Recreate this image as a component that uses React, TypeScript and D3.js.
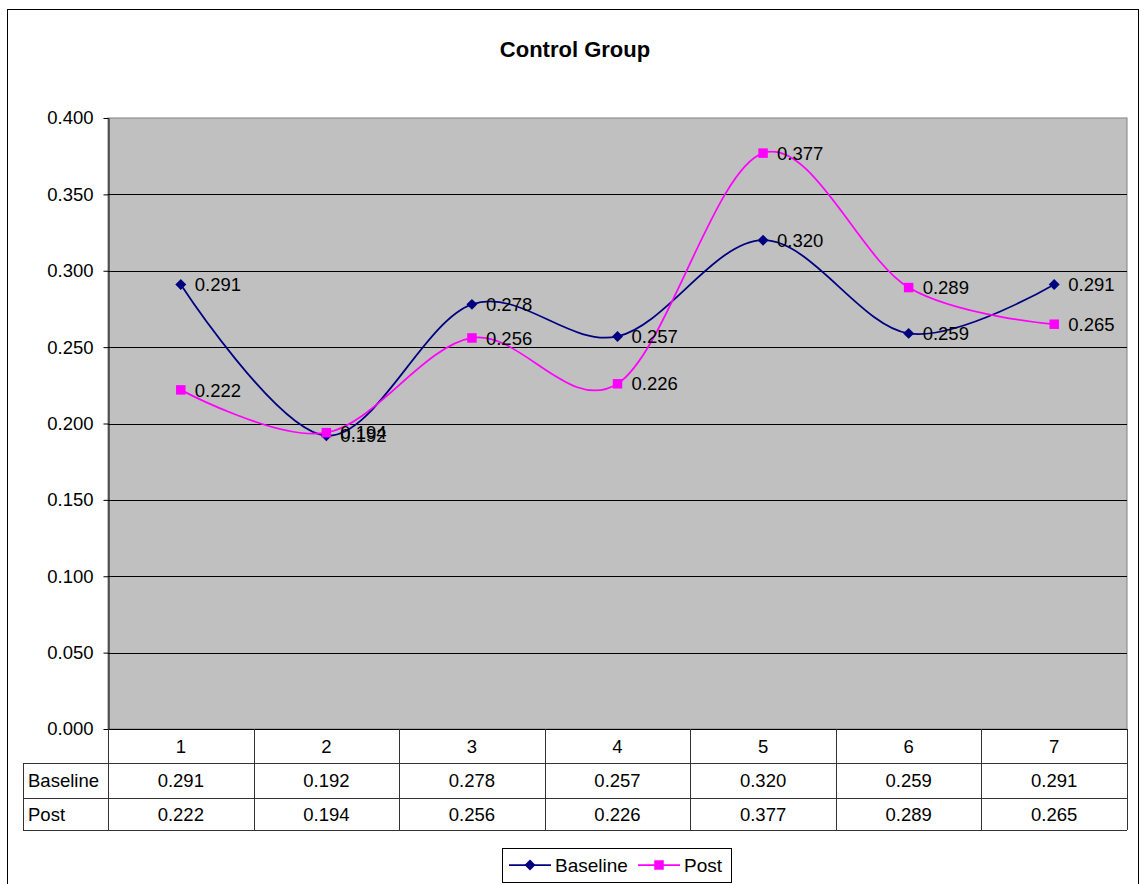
import * as d3 from "d3";
import { useEffect, useRef } from "react";

const categories = ["1", "2", "3", "4", "5", "6", "7"];
const baseline = [0.291, 0.192, 0.278, 0.257, 0.320, 0.259, 0.291];
const post = [0.222, 0.194, 0.256, 0.226, 0.377, 0.289, 0.265];
const yTicks = [0, 0.05, 0.1, 0.15, 0.2, 0.25, 0.3, 0.35, 0.4];
const seriesNames = ["Baseline", "Post"];

const W = 1141;
const H = 884;
const FONT = "'Liberation Sans', Arial, sans-serif";

const App = () => {
  const ref = useRef<SVGSVGElement>(null);

  useEffect(() => {
    const svg = d3.select(ref.current);
    svg.selectAll("*").remove();

    const plot = { left: 108, right: 1127, top: 118, bottom: 729 };
    const rowH = [34, 35, 32]; // header row, baseline row, post row
    const fmt = d3.format(".3f");

    const x = d3.scaleBand<string>().domain(categories).range([plot.left, plot.right]);
    const y = d3.scaleLinear().domain([0, 0.4]).range([plot.bottom, plot.top]);
    const cx = (i: number) => (x(categories[i]) as number) + x.bandwidth() / 2;

    // outer frame
    svg.append("rect").attr("width", W).attr("height", H).attr("fill", "#fff");
    svg.append("rect")
      .attr("x", 7.5).attr("y", 9.5).attr("width", 1131).attr("height", 900)
      .attr("fill", "none").attr("stroke", "#000").attr("stroke-width", 1);

    // title
    svg.append("text")
      .attr("x", 575).attr("y", 57)
      .attr("text-anchor", "middle")
      .style("font-family", FONT).style("font-size", "22px").style("font-weight", "bold")
      .text("Control Group");

    // plot area
    svg.append("rect")
      .attr("x", plot.left).attr("y", plot.top)
      .attr("width", plot.right - plot.left).attr("height", plot.bottom - plot.top)
      .attr("fill", "#c0c0c0").attr("stroke", "#808080").attr("stroke-width", 1);

    // gridlines
    svg.append("g").selectAll("line")
      .data(yTicks.filter(t => t > 0 && t < 0.4))
      .enter().append("line")
      .attr("x1", plot.left).attr("x2", plot.right)
      .attr("y1", d => Math.round(y(d)) + 0.5).attr("y2", d => Math.round(y(d)) + 0.5)
      .attr("stroke", "#000").attr("stroke-width", 1);

    // y axis
    const yAxis = d3.axisLeft(y).tickValues(yTicks).tickFormat(d => fmt(d as number)).tickSize(5).tickSizeOuter(0);
    const ya = svg.append("g").attr("transform", `translate(${plot.left + 0.5},0)`).call(yAxis);
    ya.selectAll("text").style("font-family", FONT).style("font-size", "18.5px").attr("x", -15).attr("fill", "#000");
    ya.select(".domain").attr("stroke", "#000");

    // data table
    const tableLeft = 23;
    const r0 = plot.bottom;
    const r1 = r0 + rowH[0];
    const r2 = r1 + rowH[1];
    const r3 = r2 + rowH[2];
    const tg = svg.append("g").attr("stroke", "#333").attr("stroke-width", 1);
    [r0, r1, r2, r3].forEach((ry, k) => {
      tg.append("line")
        .attr("x1", k === 0 ? plot.left : tableLeft).attr("x2", plot.right)
        .attr("y1", ry + 0.5).attr("y2", ry + 0.5)
        .attr("stroke", k === 0 ? "#000" : "#333");
    });
    const cols = categories.map(c => x(c) as number).concat([plot.right]);
    cols.forEach(cxv => {
      tg.append("line")
        .attr("x1", Math.round(cxv) + 0.5).attr("x2", Math.round(cxv) + 0.5)
        .attr("y1", r0).attr("y2", r3);
    });
    tg.append("line").attr("x1", tableLeft + 0.5).attr("x2", tableLeft + 0.5).attr("y1", r1).attr("y2", r3);

    const txt = svg.append("g").style("font-family", FONT).style("font-size", "18.5px").attr("fill", "#000");
    categories.forEach((c, i) => {
      txt.append("text").attr("x", cx(i)).attr("y", (r0 + r1) / 2).attr("dy", "0.36em").attr("text-anchor", "middle").text(c);
    });
    [baseline, post].forEach((vals, s) => {
      const ry = s === 0 ? (r1 + r2) / 2 : (r2 + r3) / 2;
      txt.append("text").attr("x", 28).attr("y", ry).attr("dy", "0.36em").text(seriesNames[s]);
      vals.forEach((v, i) => {
        txt.append("text").attr("x", cx(i)).attr("y", ry).attr("dy", "0.36em").attr("text-anchor", "middle").text(fmt(v));
      });
    });

    // series
    const line = d3.line<number>()
      .x((_, i) => cx(i))
      .y(d => y(d))
      .curve(d3.curveCardinal.tension(0));

    const diamond = d3.symbol(d3.symbolSquare, 60);
    const square = d3.symbol(d3.symbolSquare, 90);

    const drawSeries = (vals: number[], color: string, shape: "diamond" | "square") => {
      svg.append("path").datum(vals)
        .attr("d", line).attr("fill", "none").attr("stroke", color).attr("stroke-width", 1.75);
      svg.append("g").selectAll("path")
        .data(vals).enter().append("path")
        .attr("d", shape === "diamond" ? diamond : square)
        .attr("transform", (d, i) => `translate(${cx(i)},${y(d)})` + (shape === "diamond" ? " rotate(45)" : ""))
        .attr("fill", color);
    };
    drawSeries(baseline, "#000080", "diamond");
    drawSeries(post, "#ff00ff", "square");

    // data labels
    const lbl = svg.append("g").style("font-family", FONT).style("font-size", "18.5px").attr("fill", "#000");
    [baseline, post].forEach(vals => {
      vals.forEach((v, i) => {
        lbl.append("text").attr("x", cx(i) + 14).attr("y", y(v)).attr("dy", "0.36em").text(fmt(v));
      });
    });

    // legend
    const lg = svg.append("g");
    lg.append("rect").attr("x", 502.5).attr("y", 848.5).attr("width", 229).attr("height", 34)
      .attr("fill", "#fff").attr("stroke", "#000");
    const legendItems = [
      { name: seriesNames[0], color: "#000080", shape: "diamond", x0: 509 },
      { name: seriesNames[1], color: "#ff00ff", shape: "square", x0: 638 },
    ];
    legendItems.forEach(it => {
      const ly = 865;
      lg.append("line").attr("x1", it.x0).attr("x2", it.x0 + 42).attr("y1", ly).attr("y2", ly)
        .attr("stroke", it.color).attr("stroke-width", 1.75);
      lg.append("path")
        .attr("d", it.shape === "diamond" ? diamond : square)
        .attr("transform", `translate(${it.x0 + 21},${ly})` + (it.shape === "diamond" ? " rotate(45)" : ""))
        .attr("fill", it.color);
      lg.append("text").attr("x", it.x0 + 46).attr("y", ly).attr("dy", "0.36em")
        .style("font-family", FONT).style("font-size", "19px").text(it.name);
    });
  }, []);

  return (
    <svg ref={ref} width={W} height={H} style={{ position: "absolute", left: 0, top: 0 }}></svg>
  );
};

export default App;
